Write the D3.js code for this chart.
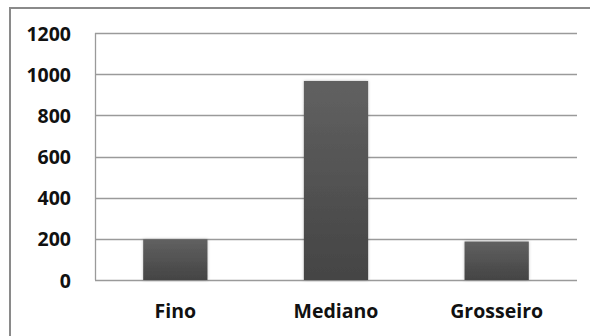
<!DOCTYPE html>
<html><head><meta charset="utf-8">
<script src="https://cdn.jsdelivr.net/npm/d3@7"></script>
<style>
html,body{margin:0;padding:0;background:#fff;}
svg{display:block;}
</style></head>
<body>
<script>
const categories = ["Fino", "Mediano", "Grosseiro"];
const values = [198, 967, 187];
const yTicks = [0, 200, 400, 600, 800, 1000, 1200];

const W = 590, H = 336;
const margin = {left: 95, top: 33, right: 13, bottom: 56};
const svg = d3.select("body").append("svg").attr("width", W).attr("height", H);

const defs = svg.append("defs");
const grad = defs.append("linearGradient").attr("id", "barGrad")
  .attr("x1", 0).attr("y1", 0).attr("x2", 0).attr("y2", 1);
grad.append("stop").attr("offset", "0%").attr("stop-color", "#616161");
grad.append("stop").attr("offset", "100%").attr("stop-color", "#444444");
const filt = defs.append("filter").attr("id", "shadow").attr("x", "-20%").attr("y", "-20%").attr("width", "140%").attr("height", "140%");
filt.append("feDropShadow").attr("dx", 0).attr("dy", 0).attr("stdDeviation", 1.5).attr("flood-color", "#000").attr("flood-opacity", 0.25);

// outer frame
svg.append("rect").attr("x", 10).attr("y", 8).attr("width", W).attr("height", H)
  .attr("fill", "none").attr("stroke", "#8a8a8a").attr("stroke-width", 2);

const x = d3.scaleBand().domain(categories)
  .range([margin.left, W - margin.right]).paddingInner(0.6).paddingOuter(0.3);
const y = d3.scaleLinear().domain([0, 1200]).range([H - margin.bottom, margin.top]);

// gridlines
svg.append("g").selectAll("line").data(yTicks).join("line")
  .attr("x1", margin.left).attr("x2", W - margin.right)
  .attr("y1", d => Math.round(y(d)) + 0.5).attr("y2", d => Math.round(y(d)) + 0.5)
  .attr("stroke", "#9a9a9a").attr("stroke-width", 1.3);
// left plot edge
svg.append("line").attr("x1", margin.left + 0.5).attr("x2", margin.left + 0.5)
  .attr("y1", y(1200)).attr("y2", y(0)).attr("stroke", "#9a9a9a").attr("stroke-width", 1.3);

// bars
svg.append("g").selectAll("rect").data(values).join("rect")
  .attr("x", (d, i) => x(categories[i]))
  .attr("width", x.bandwidth())
  .attr("y", d => y(d))
  .attr("height", d => y(0) - y(d))
  .attr("fill", "url(#barGrad)")
  .attr("filter", "url(#shadow)");

const FS = 19.5;
// y axis labels
const yAxis = d3.axisLeft(y).tickValues(yTicks).tickSize(0).tickPadding(0).tickFormat(d3.format("d"));
const ga = svg.append("g").attr("transform", `translate(71,0)`).call(yAxis);
ga.select(".domain").remove();
ga.selectAll("text").attr("font-family", "'Open Sans', sans-serif").attr("font-weight", 700)
  .attr("font-size", FS).attr("fill", "#111").attr("dy", "0.36em");

// x axis labels
const xAxis = d3.axisBottom(x).tickSize(0).tickPadding(0);
const gx = svg.append("g").attr("transform", `translate(0,${y(0) + 24})`).call(xAxis);
gx.select(".domain").remove();
gx.selectAll("text").attr("font-family", "'Open Sans', sans-serif").attr("font-weight", 700)
  .attr("font-size", FS).attr("fill", "#111").attr("dy", "0.71em");
</script>
</body></html>
